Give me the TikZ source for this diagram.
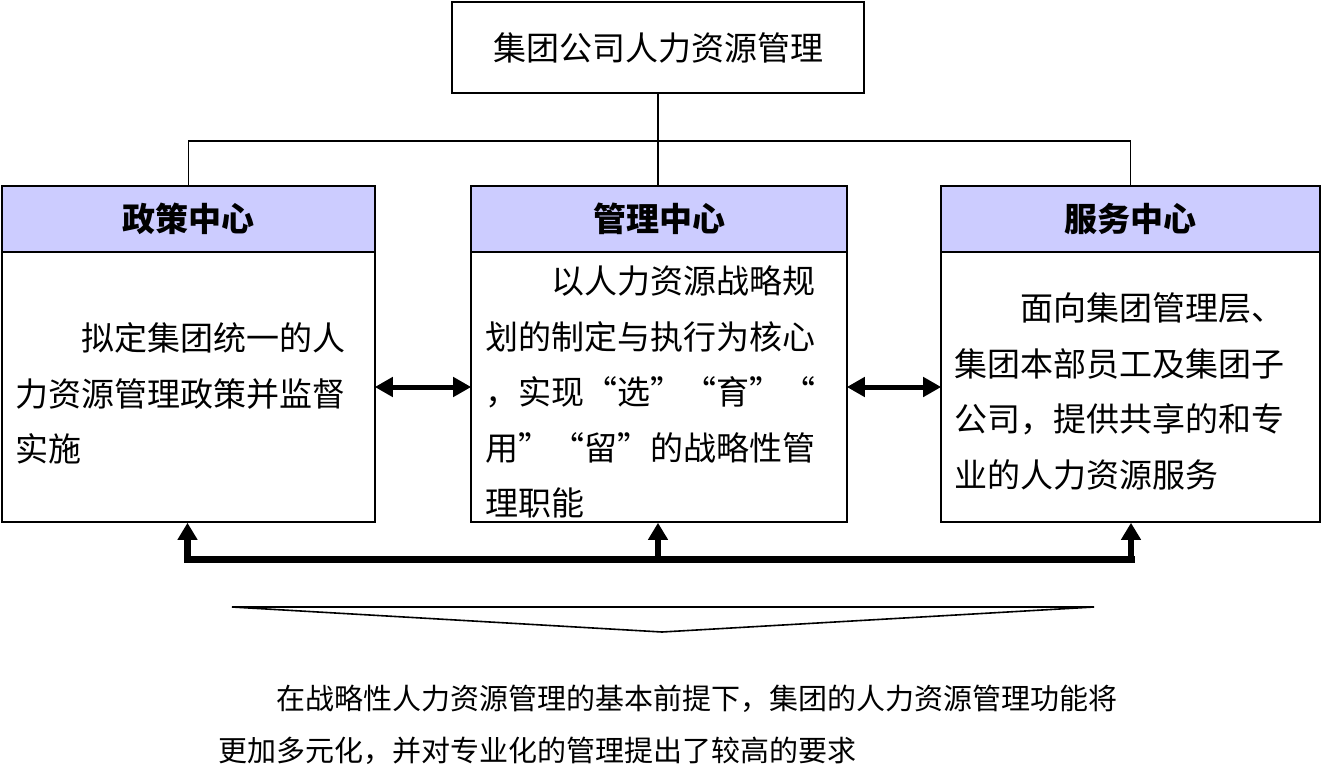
\documentclass[tikz,border=0pt]{standalone}
\usepackage{fontspec}
\setmainfont{Noto Sans CJK SC}
\usetikzlibrary{arrows.meta}
\newcommand\oqt{\makebox[1em][r]{“}}
\newcommand\cqt{\makebox[1em][l]{”}}
\definecolor{hdrfill}{HTML}{CCCCFF}
\tikzset{
  box/.style={draw=black, line width=1.6pt, inner sep=0pt},
  hdr/.style={box, fill=hdrfill, minimum height=66pt, font=\fontsize{33pt}{40pt}\selectfont\bfseries},
  bodybox/.style={box, minimum height=270pt},
  bodytext/.style={anchor=base west, inner sep=0pt, text width=345pt, align=left,
    font=\fontsize{33pt}{55.5pt}\selectfont},
  tree/.style={line width=1.6pt},
  dbl/.style={line width=5pt, {Triangle[length=18pt,width=19pt]}-{Triangle[length=18pt,width=19pt]}, shorten <=-1pt, shorten >=-1pt},
  uparrow/.style={line width=6.5pt, -{Triangle[length=17pt,width=19pt]}},
  bus/.style={line width=7pt, line cap=rect},
}
\begin{document}
\begin{tikzpicture}[x=1pt,y=-1pt]
\useasboundingbox (0,0) rectangle (1322,779);
% top box
\node[box, minimum width=412pt, minimum height=91pt, font=\fontsize{33pt}{40pt}\selectfont] (top) at (658,47.5) {集团公司人力资源管理};
% headers
\node[hdr, minimum width=373pt] (polh) at (188.5,219) {政策中心};
\node[hdr, minimum width=376pt] (mgrh) at (659,219) {管理中心};
\node[hdr, minimum width=379pt] (svch) at (1130.5,219) {服务中心};
% bodies
\node[bodybox, minimum width=373pt] (polb) at (188.5,387) {};
\node[bodybox, minimum width=376pt] (mgrb) at (659,387) {};
\node[bodybox, minimum width=379pt] (svcb) at (1130.5,387) {};
% body texts
\node[bodytext] (polt) at (15,350.5) {\hspace*{2em}拟定集团统一的人\\力资源管理政策并监督\\实施};
\node[bodytext] (mgrt) at (485,293.5) {\hspace*{2em}以人力资源战略规\\划的制定与执行为核心\\，实现\oqt 选\cqt\oqt 育\cqt\oqt\\用\cqt\oqt 留\cqt 的战略性管\\理职能};
\node[bodytext] (svct) at (954,320.5) {\hspace*{2em}面向集团管理层、\\集团本部员工及集团子\\公司，提供共享的和专\\业的人力资源服务};
% tree connectors
\draw[tree] (top.south) -- (top.south |- mgrh.north);
\draw[tree] (top.south) -- ++(0,47) -| (polh.north);
\draw[tree] (top.south) -- ++(0,47) -| (svch.north);
% double arrows
\draw[dbl] (polb.east) -- (mgrb.west);
\draw[dbl] (mgrb.east) -- (svcb.west);
% bottom bus
\coordinate (bl) at (187.5,559.5);
\coordinate (bm) at (658,559.5);
\coordinate (br) at (1131,559.5);
\draw[bus] (bl) -- (br);
\draw[uparrow] (bl) -- (bl |- polb.south);
\draw[uparrow] (bm) -- (bm |- mgrb.south);
\draw[uparrow] (br) -- (br |- svcb.south);
% triangle
\coordinate (tl) at (232,607);
\coordinate (tr) at (1094,607);
\coordinate (ta) at (662,632);
\draw[line width=1.6pt, line join=miter] (tl) -- (tr) -- (ta) -- cycle;
% conclusion text
\node[anchor=base west, inner sep=0pt, text width=960pt, align=left,
  font=\fontsize{29pt}{52pt}\selectfont] (concl) at (218,709)
  {\hspace*{2em}在战略性人力资源管理的基本前提下，集团的人力资源管理功能将\\更加多元化，并对专业化的管理提出了较高的要求};
\end{tikzpicture}
\end{document}
